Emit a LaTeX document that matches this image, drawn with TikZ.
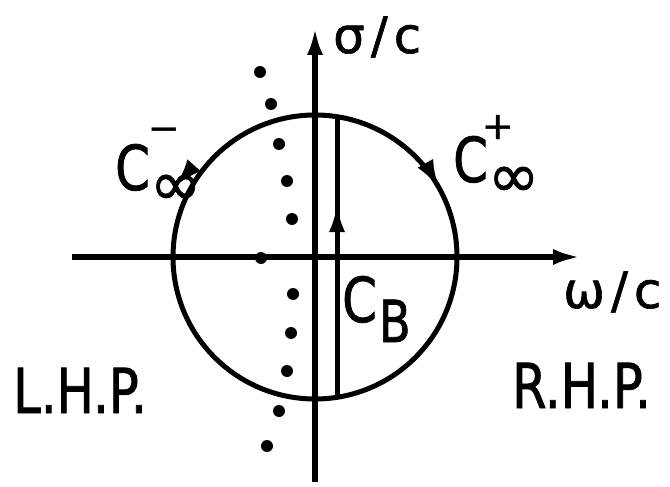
\documentclass[tikz,border=0pt]{standalone}
\usepackage{fontspec}
\newfontfamily\lt[FakeStretch=0.8,FakeBold=1.2]{DejaVu Sans}
\newfontfamily\dv[FakeBold=1.2]{DejaVu Sans}
\usetikzlibrary{arrows.meta,decorations.markings}
\begin{document}
\begin{tikzpicture}[x=1pt,y=-1pt,
  ax/.style={line width=5.5pt},
  tipA/.style={-{Latex[length=28pt,width=16pt]}},
  dotnode/.style={circle,fill,inner sep=0pt,minimum size=12pt},
  lab/.style={inner sep=0pt,anchor=base west,font=\lt\fontsize{62}{62}\selectfont},
  axlab/.style={inner sep=0pt,anchor=base west,font=\dv\fontsize{50}{50}\selectfont}]
\useasboundingbox (0,0) rectangle (670,487);
% axes
\coordinate (O) at (315,257);
\coordinate (xl) at (72,257);
\coordinate (xr) at (581,257);
\coordinate (yb) at (315,482);
\coordinate (yt) at (315,27);
\draw[ax,tipA] (xl) -- (xr);
\draw[ax,tipA] (yb) -- (yt);
% circle with arrows
\draw[line width=5pt, postaction={decorate}, decoration={markings,
  mark=at position 0.919 with {\arrow{Latex[length=28pt,width=18pt]}},
  mark=at position 0.569 with {\arrowreversed{Latex[length=28pt,width=18pt]}}}]
  (O) circle[radius=142];
% Bromwich line
\coordinate (cbbot) at (337,397);
\coordinate (cbmid) at (337,204);
\coordinate (cbtop) at (337,117);
\draw[line width=5pt] (cbbot) -- (cbtop);
\draw[line width=5pt,tipA] (cbbot) -- (cbmid);
% poles
\foreach \i/\x/\y in {1/260/72,2/271/104,3/279/144,4/287/181,5/292/219,6/261/258,7/293/294,8/291/333,9/287/371,10/279/411,11/267/446}
  \node[dotnode] (d\i) at (\x,\y) {};
% labels
\node[axlab] (sig) at (333,53) {σ\hspace{6pt}/\hspace{6pt}c};
\node[axlab] (om) at (563,308) {ω\hspace{6pt}/\hspace{6pt}c};
\node[lab] (cb) at (342,322) {C\hspace{2pt}\raisebox{-20pt}{\fontsize{58}{58}\selectfont B}};
\node[lab] (cplus) at (453,182) {C\rlap{\hspace{-6pt}\raisebox{43pt}{\fontsize{38}{38}\dv +}}\raisebox{-15pt}{\fontsize{62}{62}\dv ∞}};
\node[lab] (cminus) at (115,190) {C\rlap{\hspace{-2pt}\raisebox{49pt}{\fontsize{38}{38}\dv −}}\raisebox{-15pt}{\fontsize{62}{62}\dv ∞}};
\node[lab] (lhp) at (13,413) {L.H.P.};
\node[lab] (rhp) at (512,408) {R.H.P.};
\end{tikzpicture}
\end{document}
